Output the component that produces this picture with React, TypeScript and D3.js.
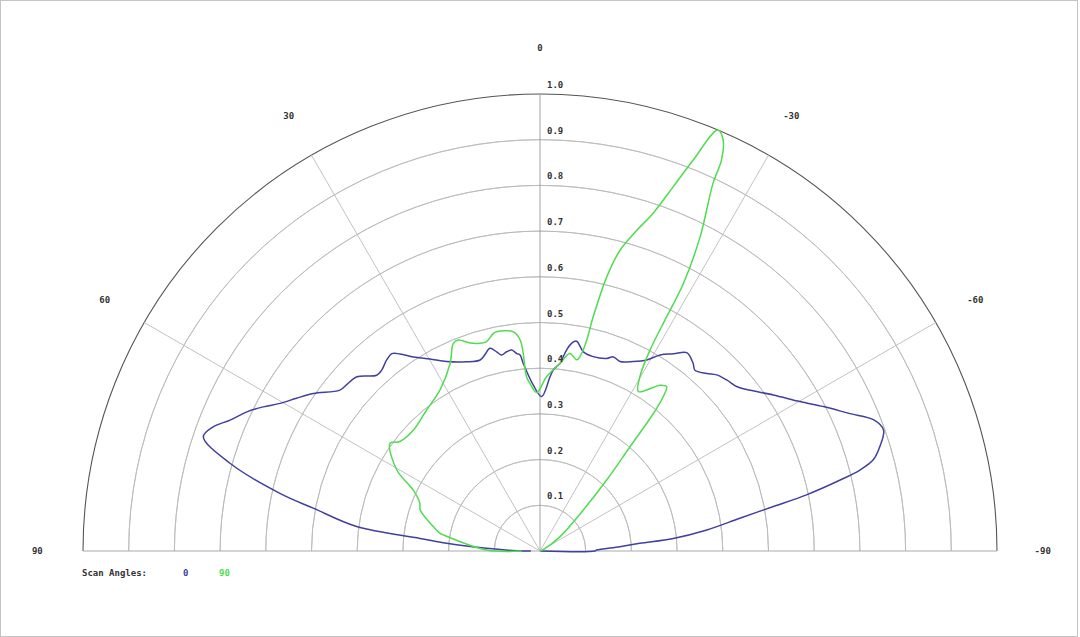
import { useEffect, useRef } from 'react';
import * as d3 from 'd3';

const WIDTH = 1080;
const HEIGHT = 637;

// polar beam pattern, angle in degrees (positive = left), value normalised 0..1
const SCAN0_ANGLES = [
  90, 88.5, 87.1, 85.3, 84, 82.4, 79.3, 77.5, 74.2, 71.25, 69.2, 67.1, 64.6, 62.5, 60.4, 57.9, 55.2,
  51.2, 49.3, 46.4, 42.9, 41.2, 38.75, 36.9, 35.4, 33.1, 29.8, 26.2, 21.2, 17.4, 15.7, 13.9, 12.3,
  11.1, 9.5, 8.0, 6.7, 5.8, 5.1, 2.3, -0.6, -3.3, -4.2, -6.5, -6.8, -8.7, -9.9, -12.3, -15.3, -19.1,
  -20.7, -22.9, -26.2, -29.2, -31.5, -34.1, -36.5, -39.2, -40.6, -43.2, -45.1, -47.5, -50.1, -52,
  -56.2, -60.1, -63, -66.1, -68.5, -70.6, -72.9, -74.7, -75.8, -76.7, -78.1, -79.2, -80.7, -82.8,
  -84.6, -85.6, -86.9, -89, -90, -90,
];
const SCAN0_VALUES = [
  0.02, 0.07, 0.117, 0.205, 0.264, 0.405, 0.505, 0.583, 0.705, 0.778, 0.765, 0.736, 0.71, 0.683, 0.654,
  0.629, 0.604, 0.562, 0.558, 0.553, 0.525, 0.526, 0.536, 0.54, 0.529, 0.507, 0.484, 0.462, 0.444,
  0.438, 0.446, 0.457, 0.446, 0.437, 0.442, 0.444, 0.435, 0.431, 0.412, 0.363, 0.338, 0.382, 0.397,
  0.417, 0.428, 0.46, 0.466, 0.446, 0.441, 0.446, 0.454, 0.45, 0.462, 0.479, 0.503, 0.521, 0.54, 0.53,
  0.521, 0.533, 0.546, 0.554, 0.561, 0.574, 0.614, 0.656, 0.696, 0.742, 0.784, 0.797, 0.778, 0.756,
  0.722, 0.675, 0.596, 0.52, 0.443, 0.368, 0.293, 0.219, 0.175, 0.124, 0.12, 0,
];

const SCAN90_ANGLES = [
  90, 88.9, 80.6, 80, 77.2, 71.1, 68.3, 64.3, 60.5, 54.3, 52, 46.3, 38.8, 31.8, 25.6, 22.7, 21.2, 18.6,
  16.1, 14.3, 12.1, 11.2, 6.9, 5.3, 4.4, 3.4, 1.2, -2.2, -6.1, -8.6, -10.9, -11.9, -12.5, -12.8,
  -13.7, -14.9, -16.8, -18.5, -20.1, -21.4, -22.9, -24, -24.9, -25.2, -27, -28.2, -28.4, -28.7, -29.8,
  -31.7, -35.9, -37.6, -38.6, -39.5, -40.8, -43.2, -46.6, -54.4, -65, -90,
];
const SCAN90_VALUES = [
  0.04, 0.117, 0.214, 0.222, 0.239, 0.277, 0.283, 0.308, 0.36, 0.404, 0.389, 0.383, 0.396, 0.415, 0.455,
  0.492, 0.495, 0.48, 0.473, 0.473, 0.487, 0.489, 0.483, 0.462, 0.382, 0.367, 0.347, 0.382,
  0.413, 0.437, 0.426, 0.442, 0.473, 0.526, 0.618, 0.681, 0.733, 0.779, 0.849, 0.919, 1.0, 0.985, 0.943,
  0.889, 0.772, 0.664, 0.583, 0.501, 0.44, 0.41, 0.448, 0.454, 0.432, 0.39, 0.302, 0.213, 0.13, 0.054,
  0.01, 0,
];

const RING_TICKS = ['0.1', '0.2', '0.3', '0.4', '0.5', '0.6', '0.7', '0.8', '0.9', '1.0'];
const SPOKE_ANGLES = [60, 30, 0, -30, -60];
const ANGLE_LABELS = [90, 60, 30, 0, -30, -60, -90];
const SERIES = [
  { name: '0', angles: SCAN0_ANGLES, values: SCAN0_VALUES, color: '#40409f' },
  { name: '90', angles: SCAN90_ANGLES, values: SCAN90_VALUES, color: '#4fdc4f' },
];

const CX = 540;
const CY = 551;
const R = 457;
const FONT = '"DejaVu Sans Mono", monospace';

export default function App() {
  const svgRef = useRef<SVGSVGElement>(null);

  useEffect(() => {
    if (!svgRef.current) return;
    const svg = d3.select(svgRef.current);
    svg.selectAll('*').remove();

    const rScale = d3.scaleLinear().domain([0, 1]).range([0, R]);
    const rad = (deg: number) => (-deg * Math.PI) / 180;

    svg.append('rect')
      .attr('x', 0.5).attr('y', 0.5)
      .attr('width', WIDTH - 3).attr('height', HEIGHT - 1)
      .attr('fill', '#fff').attr('stroke', '#c4c4c4');

    const g = svg.append('g').attr('transform', `translate(${CX},${CY})`);

    // rings
    const arc = d3.arc<number>()
      .innerRadius((d) => rScale(d))
      .outerRadius((d) => rScale(d))
      .startAngle(-Math.PI / 2)
      .endAngle(Math.PI / 2);
    RING_TICKS.forEach((t) => {
      const v = +t;
      g.append('path')
        .attr('d', arc(v))
        .attr('fill', 'none')
        .attr('stroke', v === 1 ? '#555' : '#bbb')
        .attr('stroke-width', v === 1 ? 1.1 : 0.9);
    });

    // baseline and spokes
    g.append('line')
      .attr('x1', -R).attr('x2', R).attr('y1', 0).attr('y2', 0)
      .attr('stroke', '#aaa');
    SPOKE_ANGLES.forEach((a) => {
      g.append('line')
        .attr('x1', 0).attr('y1', 0)
        .attr('x2', R * Math.sin(rad(a)))
        .attr('y2', -R * Math.cos(rad(a)))
        .attr('stroke', a === 0 ? '#999' : '#bbb')
        .attr('stroke-width', 0.9);
    });

    // series
    SERIES.forEach((s) => {
      const pts = s.angles.map((a, i) => [a, s.values[i]] as [number, number]);
      const line = d3.lineRadial<[number, number]>()
        .angle((d) => rad(d[0]))
        .radius((d) => rScale(d[1]))
        .curve(d3.curveCatmullRom.alpha(0.5));
      g.append('path')
        .attr('d', line(pts))
        .attr('fill', 'none')
        .attr('stroke', s.color)
        .attr('stroke-width', 1.5)
        .attr('stroke-linejoin', 'round');
    });

    // ring labels
    RING_TICKS.forEach((t) => {
      g.append('text')
        .attr('x', 7)
        .attr('y', -rScale(+t) - 6)
        .attr('font-family', FONT)
        .attr('font-size', 9)
        .attr('font-weight', 'bold')
        .attr('fill', '#333')
        .text(t);
    });

    // angle labels
    ANGLE_LABELS.forEach((a) => {
      const lr = R * 1.1;
      g.append('text')
        .attr('x', lr * Math.sin(rad(a)))
        .attr('y', -lr * Math.cos(rad(a)) + 3)
        .attr('text-anchor', 'middle')
        .attr('font-family', FONT)
        .attr('font-size', 9)
        .attr('font-weight', 'bold')
        .attr('fill', '#333')
        .text(String(a));
    });

    // legend
    const legend = svg.append('g').attr('transform', `translate(82,576)`);
    legend.append('text')
      .attr('font-family', FONT).attr('font-size', 9).attr('font-weight', 'bold')
      .attr('fill', '#333')
      .text('Scan Angles:');
    const legendX = d3.scaleOrdinal<string, number>().domain(SERIES.map((s) => s.name)).range([101, 137]);
    SERIES.forEach((s) => {
      legend.append('text')
        .attr('x', legendX(s.name))
        .attr('font-family', FONT).attr('font-size', 9).attr('font-weight', 'bold')
        .attr('fill', s.color)
        .text(s.name);
    });
  }, []);

  return (
    <div style={{ position: 'absolute', left: 0, top: 0 }}>
      <svg ref={svgRef} width={WIDTH} height={HEIGHT} style={{ display: 'block' }} />
    </div>
  );
}
